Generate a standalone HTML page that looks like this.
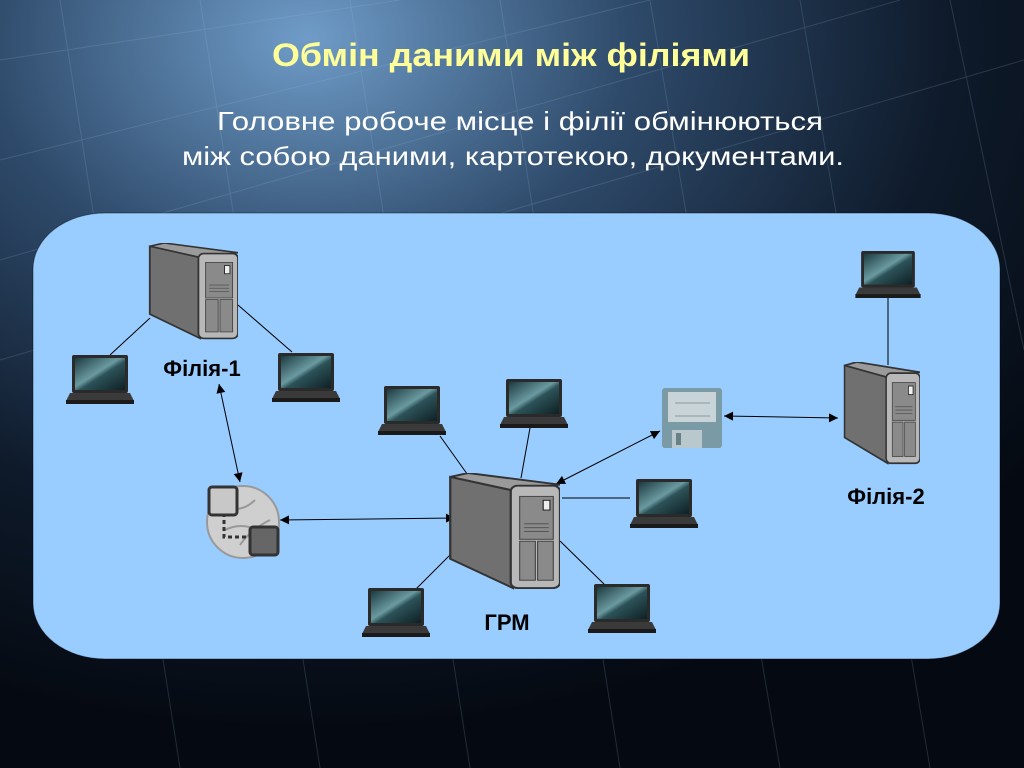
<!DOCTYPE html>
<html><head><meta charset="utf-8"><style>
html,body{margin:0;padding:0;width:1024px;height:768px;overflow:hidden;background:#0a1420}
svg{display:block}
</style></head><body>
<svg width="1024" height="768" viewBox="0 0 1024 768" xmlns="http://www.w3.org/2000/svg" font-family="Liberation Sans, Arial, sans-serif">
<defs>
<radialGradient id="bg" cx="0.3" cy="0.05" r="0.9">
<stop offset="0" stop-color="#6f9cc8"/><stop offset="0.35" stop-color="#2e4a6a"/><stop offset="0.7" stop-color="#0e1a2a"/><stop offset="1" stop-color="#050a12"/></radialGradient>
<linearGradient id="scr" x1="0" y1="0" x2="1" y2="1"><stop offset="0" stop-color="#1c3a40"/><stop offset="0.45" stop-color="#6a9aa0"/><stop offset="0.55" stop-color="#2c5258"/><stop offset="1" stop-color="#0e2024"/></linearGradient>
<symbol id="lap" viewBox="0 0 68 50">
<rect x="6" y="1" width="56" height="38" rx="2" fill="#2a2a2a"/>
<rect x="9" y="4" width="50" height="32" fill="url(#scr)"/>
<polygon points="4,39 64,39 68,47 0,47" fill="#3a3a3a"/>
<rect x="0" y="46" width="68" height="4" fill="#1a1a1a"/>
</symbol>
<symbol id="srv" viewBox="0 0 100 120" preserveAspectRatio="none">
<polygon points="2,4 18,0 100,12 58,18" fill="#9a9a9a" stroke="#333" stroke-width="2"/>
<polygon points="2,4 58,18 58,118 2,88" fill="#707070" stroke="#333" stroke-width="2"/>
<rect x="56" y="13" width="44" height="105" rx="6" fill="#b8b8b8" stroke="#333" stroke-width="2"/>
<rect x="64" y="24" width="30" height="44" fill="#8a8a8a" stroke="#444"/>
<line x1="68" y1="52" x2="90" y2="52" stroke="#555"/><line x1="68" y1="56" x2="90" y2="56" stroke="#555"/><line x1="68" y1="60" x2="90" y2="60" stroke="#555"/>
<rect x="64" y="70" width="14" height="40" fill="#8a8a8a" stroke="#444"/>
<rect x="80" y="70" width="14" height="40" fill="#8a8a8a" stroke="#444"/>
<rect x="85" y="28" width="6" height="10" fill="#eee" stroke="#222"/>
</symbol>
<marker id="ah" viewBox="0 0 10 10" refX="10" refY="5" markerWidth="10" markerHeight="9" orient="auto-start-reverse" markerUnits="userSpaceOnUse"><path d="M0,0 L10,5 L0,10 z" fill="#000"/></marker>
</defs>
<rect width="1024" height="768" fill="url(#bg)"/>
<g stroke="#9fc0e0" stroke-opacity="0.18" stroke-width="1">
<path d="M0,60 L400,0 M0,160 L650,0 M0,260 L900,0 M0,360 L1024,60 M60,0 L180,768 M200,0 L320,768 M350,0 L470,768 M500,0 L620,768 M650,0 L780,768 M800,0 L930,768 M950,0 L1024,350"/>
</g>
<rect x="33" y="213" width="967" height="446" rx="72" ry="56" fill="#99ccff" stroke="#000" stroke-opacity="0.4"/>
<text x="511" y="66" text-anchor="middle" font-size="32" font-weight="bold" fill="#ffff99" textLength="478" lengthAdjust="spacingAndGlyphs">Обмін даними між філіями</text>
<text x="520" y="130" text-anchor="middle" font-size="26" fill="#ffffff" textLength="606" lengthAdjust="spacingAndGlyphs">Головне робоче місце і філії обмінюються</text>
<text x="513" y="165" text-anchor="middle" font-size="26" fill="#ffffff" textLength="662" lengthAdjust="spacingAndGlyphs">між собою даними, картотекою, документами.</text>
<g stroke="#000" stroke-width="1" fill="none">
<line x1="150" y1="318" x2="110" y2="355"/>
<line x1="238" y1="305" x2="292" y2="352"/>
<line x1="440" y1="436" x2="470" y2="478"/>
<line x1="530" y1="428" x2="521" y2="478"/>
<line x1="562" y1="498" x2="630" y2="498"/>
<line x1="560" y1="541" x2="605" y2="585"/>
<line x1="450" y1="555" x2="415" y2="590"/>
<line x1="888" y1="298" x2="888" y2="365"/>
<line x1="219" y1="384" x2="240" y2="482" marker-start="url(#ah)" marker-end="url(#ah)"/>
<line x1="280" y1="520" x2="455" y2="518" marker-start="url(#ah)" marker-end="url(#ah)"/>
<line x1="556" y1="484" x2="660" y2="431" marker-start="url(#ah)" marker-end="url(#ah)"/>
<line x1="724" y1="416" x2="838" y2="418" marker-start="url(#ah)" marker-end="url(#ah)"/>
</g>
<use href="#srv" x="148" y="243" width="90" height="97"/>
<use href="#srv" x="448" y="473" width="112" height="117"/>
<use href="#srv" x="843" y="362" width="77" height="103"/>
<use href="#lap" x="66" y="354" width="68" height="50"/>
<use href="#lap" x="272" y="352" width="68" height="50"/>
<use href="#lap" x="378" y="385" width="68" height="50"/>
<use href="#lap" x="500" y="378" width="68" height="50"/>
<use href="#lap" x="630" y="478" width="68" height="50"/>
<use href="#lap" x="588" y="583" width="68" height="50"/>
<use href="#lap" x="362" y="587" width="68" height="50"/>
<use href="#lap" x="854" y="250" width="68" height="48"/>
<rect x="662" y="388" width="60" height="60" rx="3" fill="#7a9aa6"/>
<rect x="668" y="392" width="48" height="30" fill="#c8d4d8"/>
<line x1="675" y1="403" x2="710" y2="403" stroke="#8a9aa0"/>
<line x1="675" y1="416" x2="710" y2="416" stroke="#8a9aa0"/>
<rect x="672" y="430" width="30" height="18" fill="#b8c8cc"/>
<rect x="676" y="433" width="5" height="12" fill="#6a8088"/>
<circle cx="243" cy="522" r="36" fill="#cfcfcf" stroke="#999" stroke-width="2"/>
<path d="M220,505 Q240,515 255,500 M225,530 Q245,520 265,535 M240,545 Q250,530 270,520" stroke="#999" stroke-width="2" fill="none"/>
<path d="M224,506 L224,537 L262,537" stroke="#333" stroke-width="3" stroke-dasharray="4,3" fill="none"/>
<rect x="209" y="487" width="28" height="28" rx="3" fill="#c8c8c8" stroke="#333" stroke-width="3"/>
<rect x="250" y="527" width="28" height="28" rx="3" fill="#666" stroke="#333" stroke-width="3"/>
<g font-weight="bold" font-size="22" fill="#000">
<text x="202" y="376" text-anchor="middle">Філія-1</text>
<text x="886" y="504" text-anchor="middle">Філія-2</text>
<text x="507" y="630" text-anchor="middle">ГРМ</text>
</g>
</svg>
</body></html>
